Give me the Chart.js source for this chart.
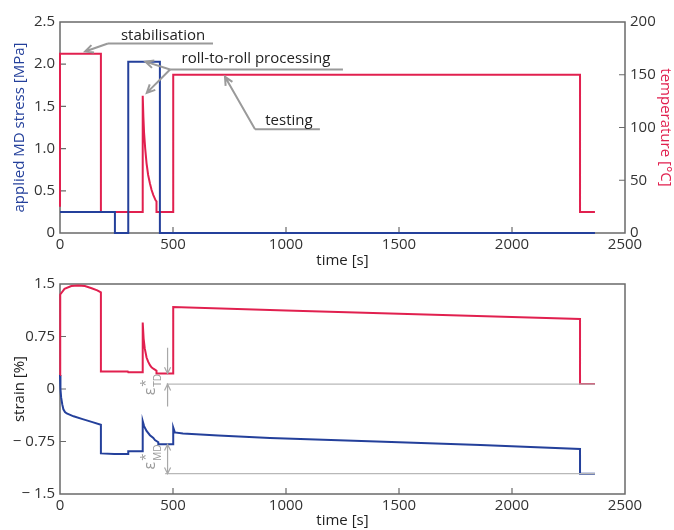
<!DOCTYPE html>
<html>
<head>
<meta charset="utf-8">
<script src="https://cdn.jsdelivr.net/npm/chart.js@4.4.1/dist/chart.umd.min.js"></script>
<style>
  html, body { margin: 0; padding: 0; background: #fff; }
  .wrap { position: relative; width: 674px; height: 530px; }
  #top { position: absolute; left: 0; top: 0; }
  #bottom { position: absolute; left: 0; top: 270px; }
</style>
</head>
<body>
<div class="wrap">
  <canvas id="top" width="674" height="270"></canvas>
  <canvas id="bottom" width="674" height="260"></canvas>
</div>
<script>
// time axis
const timeTicks = [0, 500, 1000, 1500, 2000, 2500];

// top panel: applied MD stress [MPa]
const stressTime = [0, 243, 243, 302, 302, 442, 442, 2367];
const stressVal = [0.25, 0.25, 0, 0, 2.03, 2.03, 0, 0];
const stressTicks = [0, 0.5, 1, 1.5, 2, 2.5];
const stressTickLabels = ["0", "0.5", "1.0", "1.5", "2.0", "2.5"];

// top panel: temperature [°C]
const tempTime = [0, 0, 181, 181, 366, 366, 369, 372, 377, 383, 390, 398, 405, 413, 423, 427, 427, 501, 501, 2301, 2301, 2367];
const tempVal = [25, 170, 170, 20, 20, 130, 110, 95, 80, 66, 55, 47, 41, 36, 31, 30, 20, 20, 150, 150, 20, 20];
const tempTicks = [0, 50, 100, 150, 200];
const tempTickLabels = ["0", "50", "100", "150", "200"];

// bottom panel: strain [%]
const strainTdTime = [0, 1, 20, 50, 80, 110, 140, 165, 181, 181, 300, 302, 366, 366, 370, 375, 383, 390, 398, 405, 413, 423, 427, 427, 501, 501, 1000, 1500, 2000, 2301, 2301, 2367];
const strainTdVal = [0.2, 1.35, 1.43, 1.47, 1.48, 1.47, 1.44, 1.41, 1.38, 0.25, 0.25, 0.24, 0.24, 0.95, 0.72, 0.58, 0.45, 0.39, 0.34, 0.31, 0.29, 0.27, 0.26, 0.22, 0.22, 1.17, 1.12, 1.075, 1.03, 1.0, 0.07, 0.07];
const strainMdTime = [0, 2, 5, 10, 15, 22, 30, 45, 60, 100, 140, 181, 181, 240, 302, 302, 366, 366, 372, 383, 398, 413, 420, 435, 435, 501, 501, 508, 544, 700, 929, 1401, 1860, 2301, 2301, 2367];
const strainMdVal = [0.2, 0.0, -0.12, -0.22, -0.29, -0.33, -0.35, -0.37, -0.39, -0.43, -0.47, -0.51, -0.92, -0.93, -0.93, -0.89, -0.89, -0.46, -0.53, -0.60, -0.66, -0.70, -0.73, -0.76, -0.79, -0.79, -0.55, -0.62, -0.635, -0.665, -0.70, -0.75, -0.80, -0.857, -1.21, -1.21];
const strainTicks = [-1.5, -0.75, 0, 0.75, 1.5];
const strainTickLabels = ["\u2212 1.5", "\u2212 0.75", "0", "0.75", "1.5"];

// residual strain reference lines
const refTdTime = [472, 2367];
const refTdVal = [0.07, 0.07];
const refMdTime = [465, 2367];
const refMdVal = [-1.21, -1.21];

const BLUE = "#24409b";
const RED = "#e1204f";
const GREY = "#9a9a9a";
const FRAME = "#6a6a6a";

Chart.defaults.font.family = '"Open Sans", sans-serif';
Chart.defaults.font.size = 15;
Chart.defaults.color = "#333";

const zip = (xs, ys) => xs.map((x, i) => ({ x, y: ys[i] }));
const labelFor = (vals, labels) => (v) => {
  const i = vals.findIndex((t) => Math.abs(t - v) < 1e-6);
  return i < 0 ? "" : labels[i];
};

const line = (data, color, axis, width) => ({
  data,
  borderColor: color,
  borderWidth: width || 2,
  pointRadius: 0,
  tension: 0,
  fill: false,
  clip: false,
  yAxisID: axis || "y",
});

const arrow = (ctx, x0, y0, x1, y1, size) => {
  const ang = Math.atan2(y1 - y0, x1 - x0);
  ctx.beginPath();
  ctx.moveTo(x0, y0);
  ctx.lineTo(x1, y1);
  ctx.moveTo(x1 - size * Math.cos(ang - 0.45), y1 - size * Math.sin(ang - 0.45));
  ctx.lineTo(x1, y1);
  ctx.lineTo(x1 - size * Math.cos(ang + 0.45), y1 - size * Math.sin(ang + 0.45));
  ctx.stroke();
};

// box around the plot area plus short inward tick marks
const frameTicks = {
  id: "frameTicks",
  beforeDatasetsDraw(chart) {
    const { ctx, chartArea: a } = chart;
    ctx.save();
    ctx.strokeStyle = FRAME;
    ctx.lineWidth = 1.5;
    ctx.strokeRect(a.left, a.top, a.right - a.left, a.bottom - a.top);
    ctx.lineWidth = 1.2;
    ctx.beginPath();
    Object.values(chart.scales).forEach((s) => {
      s.ticks.forEach((t) => {
        if (t.value <= s.min || t.value >= s.max) return;
        const p = s.getPixelForValue(t.value);
        if (s.axis === "x") {
          ctx.moveTo(p, a.bottom);
          ctx.lineTo(p, a.bottom - 6);
        } else if (s.position === "right") {
          ctx.moveTo(a.right, p);
          ctx.lineTo(a.right - 6, p);
        } else {
          ctx.moveTo(a.left, p);
          ctx.lineTo(a.left + 6, p);
        }
      });
    });
    ctx.stroke();
    ctx.restore();
  },
};

// callouts on the top panel (given in time / MPa)
const topNotes = [
  { text: "stabilisation", tx: 456, ty: 2.34, line: [212, 677, 2.246], tips: [[111, 2.15]] },
  { text: "roll-to-roll processing", tx: 867, ty: 2.07, line: [487, 1252, 1.937], tips: [[378, 2.03], [384, 1.66]] },
  { text: "testing", tx: 1013, ty: 1.33, line: [863, 1150, 1.23], tips: [[730, 1.85]] },
];

const callouts = {
  id: "callouts",
  afterDatasetsDraw(chart) {
    const { ctx, scales: { x, y } } = chart;
    ctx.save();
    ctx.strokeStyle = GREY;
    ctx.lineWidth = 2;
    topNotes.forEach((n) => {
      const x0 = x.getPixelForValue(n.line[0]);
      const x1 = x.getPixelForValue(n.line[1]);
      const yl = y.getPixelForValue(n.line[2]);
      ctx.beginPath();
      ctx.moveTo(x0, yl);
      ctx.lineTo(x1, yl);
      ctx.stroke();
      n.tips.forEach(([tx, ty]) => arrow(ctx, x0, yl, x.getPixelForValue(tx), y.getPixelForValue(ty), 9));
      ctx.fillStyle = "#222";
      ctx.font = '15px "Open Sans", sans-serif';
      ctx.textAlign = "center";
      ctx.textBaseline = "middle";
      ctx.fillText(n.text, x.getPixelForValue(n.tx), y.getPixelForValue(n.ty));
    });
    ctx.restore();
  },
};

const epsLabel = (ctx, px, py, sub) => {
  ctx.save();
  ctx.translate(px, py);
  ctx.rotate(-Math.PI / 2);
  ctx.fillStyle = GREY;
  ctx.textAlign = "left";
  ctx.textBaseline = "alphabetic";
  ctx.font = '16px "Open Sans", sans-serif';
  ctx.fillText("\u03b5", 0, 0);
  const w = ctx.measureText("\u03b5").width + 1;
  ctx.font = '13px "Open Sans", sans-serif';
  ctx.fillText("*", w, -5);
  ctx.font = '10px "Open Sans", sans-serif';
  ctx.fillText(sub, w, 6);
  ctx.restore();
};

// dimension arrows for residual strains (given in time / strain)
const dims = {
  id: "dims",
  afterDatasetsDraw(chart) {
    const { ctx, scales: { x, y } } = chart;
    const xa = x.getPixelForValue(476);
    ctx.save();
    ctx.strokeStyle = "#a8a8a8";
    ctx.lineWidth = 1.2;
    arrow(ctx, xa, y.getPixelForValue(0.59), xa, y.getPixelForValue(0.22), 7);
    arrow(ctx, xa, y.getPixelForValue(-0.25), xa, y.getPixelForValue(0.07), 7);
    const m0 = y.getPixelForValue(-0.79);
    const m1 = y.getPixelForValue(-1.21);
    arrow(ctx, xa, (m0 + m1) / 2, xa, m0, 7);
    arrow(ctx, xa, (m0 + m1) / 2, xa, m1, 7);
    epsLabel(ctx, 155, y.getPixelForValue(-0.09), "TD");
    epsLabel(ctx, 155, y.getPixelForValue(-1.15), "MD");
    ctx.restore();
  },
};

const xScale = (h) => ({
  type: "linear",
  min: 0,
  max: 2500,
  grid: { display: false, drawTicks: false },
  border: { display: false },
  afterBuildTicks: (s) => { s.ticks = timeTicks.map((v) => ({ value: v })); },
  afterFit: (s) => { s.height = h; },
  ticks: { padding: 3, autoSkip: false, maxRotation: 0, callback: (v) => String(v) },
  title: { display: true, text: "time [s]", color: "#222", padding: { top: 0, bottom: 0 } },
});

new Chart(document.getElementById("top"), {
  type: "line",
  data: {
    datasets: [
      line(zip(stressTime, stressVal), BLUE, "y"),
      line(zip(tempTime, tempVal), RED, "yT"),
    ],
  },
  options: {
    responsive: false,
    animation: false,
    layout: { padding: { top: 22, right: 0, bottom: 0, left: 0 } },
    plugins: { legend: { display: false }, tooltip: { enabled: false } },
    scales: {
      x: xScale(37),
      y: {
        type: "linear",
        position: "left",
        min: 0,
        max: 2.5,
        grid: { display: false, drawTicks: false },
        border: { display: false },
        afterBuildTicks: (s) => { s.ticks = stressTicks.map((v) => ({ value: v })); },
        afterFit: (s) => { s.width = 60; },
        ticks: { padding: 5, callback: labelFor(stressTicks, stressTickLabels) },
        title: { display: true, text: "applied MD stress [MPa]", color: BLUE, padding: { top: 11, bottom: 0 } },
      },
      yT: {
        type: "linear",
        position: "right",
        min: 0,
        max: 200,
        grid: { display: false, drawTicks: false },
        border: { display: false },
        afterBuildTicks: (s) => { s.ticks = tempTicks.map((v) => ({ value: v })); },
        afterFit: (s) => { s.width = 49; },
        ticks: { padding: 5, callback: labelFor(tempTicks, tempTickLabels) },
        title: { display: true, text: "temperature [\u00b0C]", color: RED, padding: { top: 0, bottom: 0 } },
      },
    },
  },
  plugins: [frameTicks, callouts],
});

new Chart(document.getElementById("bottom"), {
  type: "line",
  data: {
    datasets: [
      line(zip(refTdTime, refTdVal), "#b8b8b8", "y", 1.2),
      line(zip(refMdTime, refMdVal), "#b8b8b8", "y", 1.2),
      line(zip(strainTdTime, strainTdVal), RED, "y"),
      line(zip(strainMdTime, strainMdVal), BLUE, "y"),
    ],
  },
  options: {
    responsive: false,
    animation: false,
    layout: { padding: { top: 14, right: 49, bottom: 0, left: 0 } },
    plugins: { legend: { display: false }, tooltip: { enabled: false } },
    scales: {
      x: xScale(36),
      y: {
        type: "linear",
        position: "left",
        min: -1.5,
        max: 1.5,
        grid: { display: false, drawTicks: false },
        border: { display: false },
        afterBuildTicks: (s) => { s.ticks = strainTicks.map((v) => ({ value: v })); },
        afterFit: (s) => { s.width = 60; },
        ticks: { padding: 5, callback: labelFor(strainTicks, strainTickLabels) },
        title: { display: true, text: "strain [%]", color: "#222", padding: { top: 11, bottom: 0 } },
      },
    },
  },
  plugins: [frameTicks, dims],
});
</script>
</body>
</html>
